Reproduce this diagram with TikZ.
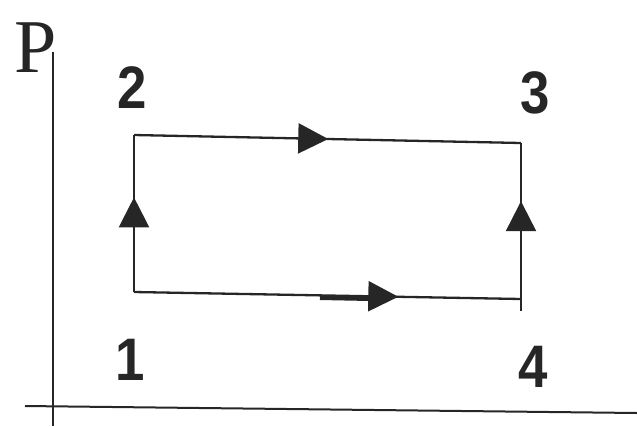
\documentclass[tikz,border=0pt]{standalone}
\usepackage{fontspec}
\setmainfont{Liberation Serif}
\newfontfamily\digitfont{Liberation Sans}
\usetikzlibrary{arrows.meta,decorations.markings}
\tikzset{
  axis/.style={line width=2pt, black!85},
  cycle/.style={line width=2.3pt, black!85},
  midarrow/.style={postaction={decorate}, decoration={markings,
     mark=at position #1 with {\arrow{Triangle[length=30pt,width=30pt]}}}},
  numlbl/.style={font=\digitfont\bfseries\fontsize{60}{60}\selectfont, inner sep=0pt, text=black!85, xscale=0.88},
  plbl/.style={font=\fontsize{76}{76}\selectfont, inner sep=0pt, text=black!85}
}
\begin{document}
\begin{tikzpicture}[x=1pt,y=-1pt]
\useasboundingbox (0,0) rectangle (637,426);
% axes
\coordinate (ytop) at (53,52);
\coordinate (ybot) at (53,426);
\coordinate (xl) at (25,406);
\coordinate (xr) at (637,413);
\draw[axis] (ytop) -- (ybot);
\draw[axis] (xl) -- (xr);
\node[plbl] (P) at (36,48) {P};
% corners
\coordinate (c1) at (134,292);
\coordinate (c2) at (134,135);
\coordinate (c3) at (521,143);
\coordinate (c4) at (521,299);
\coordinate (c4b) at (521,311);
\draw[cycle, midarrow=0.603] (c1) -- (c2);
\draw[cycle, midarrow=0.502] (c2) -- (c3);
\draw[cycle] (c3) -- (c4b);
\draw[cycle, midarrow=0.627] (c4) -- (c3);
\draw[cycle, midarrow=0.683] (c1) -- (c4);
\draw[line width=4pt, black!85] (320,298) -- (370,299);
% labels
\node[numlbl] (n1) at (130,360) {1};
\node[numlbl] (n2) at (132,88) {2};
\node[numlbl] (n3) at (535,93) {3};
\node[numlbl] (n4) at (533,367) {4};
\end{tikzpicture}
\end{document}
